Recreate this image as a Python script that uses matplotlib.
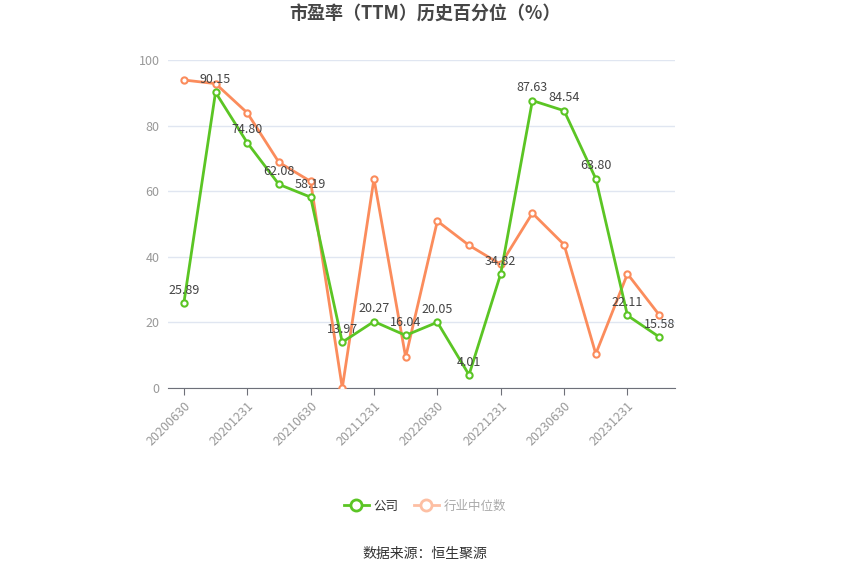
import matplotlib
matplotlib.use("Agg")
import matplotlib.pyplot as plt
from matplotlib.lines import Line2D

plt.rcParams['font.family'] = ['Noto Sans CJK SC', 'DejaVu Sans']

dates = ["20200630", "20200930", "20201231", "20210331", "20210630", "20210930",
         "20211231", "20220331", "20220630", "20220930", "20221231", "20230331",
         "20230630", "20230930", "20231231", "20240331"]
company = [25.89, 90.15, 74.80, 62.08, 58.19, 13.97, 20.27, 16.04, 20.05, 4.01,
           34.82, 87.63, 84.54, 63.80, 22.11, 15.58]
industry = [93.9, 92.8, 83.9, 68.8, 63.0, 0.0, 63.8, 9.4, 50.9, 43.5, 37.7, 53.3,
            43.7, 10.4, 34.8, 22.3]
yticks = [0, 20, 40, 60, 80, 100]

green = "#5bc524"
orange = "#fb8c5c"

fig = plt.figure(figsize=(8.5, 5.75), dpi=100)
ax = fig.add_axes([168/850, 1-388/575, (675-168)/850, (388-60)/575])

x = list(range(len(dates)))
ax.plot(x, industry, color=orange, lw=2, marker='o', ms=4.5, mfc='white',
        mec=orange, mew=1.5, zorder=3)
ax.plot(x, company, color=green, lw=2, marker='o', ms=4.5, mfc='white',
        mec=green, mew=1.5, zorder=4)
for xi, v in zip(x, company):
    ax.annotate(f"{v:.2f}", (xi, v), xytext=(0, 4.5), textcoords='offset points',
                ha='center', va='bottom', fontsize=9, color='#444444', zorder=5)

ax.set_xlim(-0.5, len(dates)-0.5)
ax.set_ylim(0, 100)
ax.set_yticks(yticks)
ax.set_yticklabels([str(t) for t in yticks], color='#999999', fontsize=9)
ax.set_xticks(x[::2])
ax.set_xticklabels(dates[::2], rotation=45, ha='right', va='top',
                   rotation_mode='anchor', color='#999999', fontsize=9)
ax.tick_params(axis='y', length=0, pad=6)
ax.tick_params(axis='x', length=5, color='#6e7079', pad=3)
ax.grid(axis='y', color='#e0e6f1', lw=1)
ax.set_axisbelow(True)
for s in ['top', 'right', 'left']:
    ax.spines[s].set_visible(False)
ax.spines['bottom'].set_color('#6e7079')

fig.text(0.5, 1-14/575, "市盈率（TTM）历史百分位（%）", ha='center', va='center',
         fontsize=13, fontweight='bold', color='#464646')

handles = [Line2D([0], [0], color=green, lw=2, marker='o', ms=8, mfc='white', mec=green, mew=2),
           Line2D([0], [0], color='#fdbfa3', lw=2, marker='o', ms=8, mfc='white', mec='#fdbfa3', mew=2)]
leg = fig.legend(handles, ["公司", "行业中位数"], loc='center', bbox_to_anchor=(0.5, 1-506/575),
                 ncol=2, frameon=False, fontsize=9, handlelength=2.0, columnspacing=1.2,
                 handletextpad=0.4)
leg.get_texts()[0].set_color('#333333')
leg.get_texts()[1].set_color('#aaaaaa')

fig.text(0.5, 1-554/575, "数据来源：恒生聚源", ha='center', va='center', fontsize=10, color='#333333')

fig.savefig("out.png", dpi=100)
